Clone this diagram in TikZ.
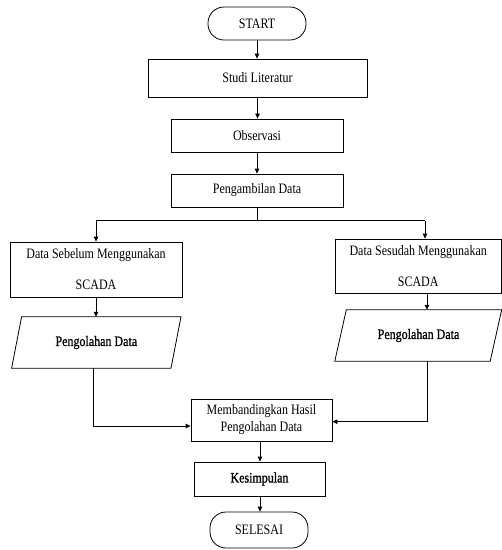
\documentclass[tikz,border=0pt]{standalone}
\usepackage{fontspec}
\usepackage{graphicx}
\setmainfont{Liberation Serif}
\newfontfamily\fbf[FakeBold=1.2]{Liberation Serif}
\usetikzlibrary{arrows.meta}
\newcommand\tx[1]{\scalebox{1}[1.2]{#1}}
\begin{document}
\begin{tikzpicture}[x=1pt,y=-1pt,
  box/.style={draw, line width=0.8pt, inner sep=0pt, font=\fontsize{12}{14}\selectfont, align=center},
  term/.style={box, rounded corners=16pt},
  para/.style={inner sep=0pt, font=\fontsize{12}{14}\selectfont, align=center},
  arr/.style={line width=0.8pt, -{Triangle[length=5pt,width=4.5pt]}},
  ln/.style={line width=0.8pt}]
\useasboundingbox (0,0) rectangle (502,550);

\node[term, minimum width=98pt, minimum height=33pt] (start) at (257,23.5) {\tx{START}};
\node[box, minimum width=219pt, minimum height=38pt] (studi) at (257.5,78) {\tx{Studi Literatur}};
\node[box, minimum width=172pt, minimum height=33pt] (obs) at (257,135.5) {\tx{Observasi}};
\node[box, minimum width=172pt, minimum height=33pt] (amb) at (257,190.5) {\tx{Pengambilan Data}};
\node[box, minimum width=172pt, minimum height=55pt, font=\fontsize{12}{31}\selectfont] (sebelum) at (96,269.5) {\tx{Data Sebelum Menggunakan}\\\tx{SCADA}};
\node[box, minimum width=166.6pt, minimum height=54pt, font=\fontsize{12}{31}\selectfont] (sesudah) at (418.2,266) {\tx{Data Sesudah Menggunakan}\\\tx{SCADA}};

\node[para, minimum width=159pt, minimum height=51pt] (p1) at (96.3,342.5) {\tx{\fbf Pengolahan Data}};
\draw[ln] ([xshift=-5pt]p1.south west) -- ([xshift=-5pt]p1.south east) -- ([xshift=5pt]p1.north east) -- ([xshift=5pt]p1.north west) -- cycle;
\node[para, minimum width=155pt, minimum height=51pt] (p2) at (418.5,335.5) {\tx{\fbf Pengolahan Data}};
\draw[ln] ([xshift=-6pt]p2.south west) -- ([xshift=-6pt]p2.south east) -- ([xshift=5.5pt]p2.north east) -- ([xshift=5.5pt]p2.north west) -- cycle;

\node[box, minimum width=141pt, minimum height=42pt, font=\fontsize{12}{17}\selectfont] (mb) at (261.5,420) {\tx{Membandingkan Hasil}\\\tx{Pengolahan Data}};
\node[box, minimum width=131pt, minimum height=34pt] (kes) at (259.5,479) {\tx{\fbf Kesimpulan}};
\node[term, minimum width=98pt, minimum height=36pt] (sel) at (259,530) {\tx{SELESAI}};

\draw[arr] (start.south) -- (start.south |- studi.north);
\draw[arr] (studi.south) -- (studi.south |- obs.north);
\draw[arr] (obs.south) -- (amb.north);

\coordinate (bl) at (96,220.7);
\coordinate (brr) at (425,220.7);
\draw[ln] (amb.south) -- (amb.south |- bl);
\draw[ln] (bl) -- (brr);
\draw[arr] (bl) -- (bl |- sebelum.north);
\draw[arr] (brr) -- (brr |- sesudah.north);

\draw[arr] (sebelum.south) -- (sebelum.south |- p1.north);
\coordinate (rx) at (427,300);
\draw[arr] (rx |- sesudah.south) -- (rx |- p2.north);

\coordinate (jl) at (93.3,426);
\draw[arr] (jl |- p1.south) -- (jl) -- (jl -| mb.west);
\coordinate (jr) at (427,421.7);
\draw[arr] (jr |- p2.south) -- (jr) -- (jr -| mb.east);

\coordinate (cx) at (260,450);
\draw[arr] (cx |- mb.south) -- (cx |- kes.north);
\draw[arr] (cx |- kes.south) -- (cx |- sel.north);
\end{tikzpicture}
\end{document}
